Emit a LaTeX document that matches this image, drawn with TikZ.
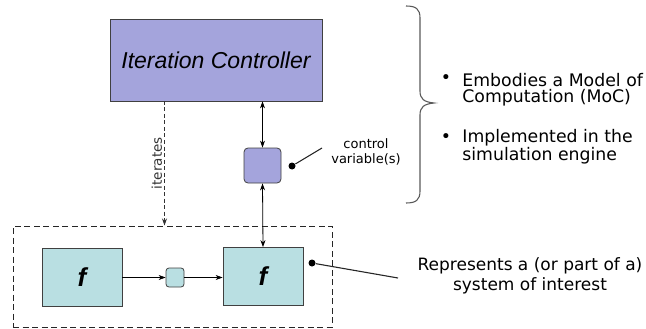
\documentclass[tikz,border=0pt]{standalone}
\usepackage{fontspec}
\setmainfont{DejaVu Sans}
\newfontfamily\arialfont{Liberation Sans}
\usetikzlibrary{arrows,arrows.meta,positioning,shapes,calc,decorations.pathreplacing}
\definecolor{ctrlfill}{HTML}{A4A4DC}
\definecolor{funfill}{HTML}{B9DFE2}
\begin{document}
\begin{tikzpicture}[x=1pt, y=-1pt, line width=0.8pt,
  ctrl box/.style={rectangle,draw=black!75,fill=ctrlfill,minimum width=212pt,minimum height=82pt,inner sep=0pt},
  var box/.style={rectangle,rounded corners=4pt,draw=black!75,fill=ctrlfill,minimum width=37pt,minimum height=35pt},
  fun box/.style={rectangle,draw=black!75,fill=funfill,minimum width=80pt,minimum height=58pt,inner sep=0pt},
  buf box/.style={rectangle,rounded corners=3pt,draw=black!75,fill=funfill,minimum width=18pt,minimum height=19pt,inner sep=0pt},
  sys box/.style={rectangle,draw=black!85,dash pattern=on 6pt off 3.5pt,line width=1pt,minimum width=319pt,minimum height=101pt},
  pin dot/.style={circle,fill=black,minimum size=7pt,inner sep=0pt},
  tip/.style={-{Stealth[length=7pt,width=5pt]}},
  both tip/.style={{Stealth[length=7pt,width=5pt]}-{Stealth[length=7pt,width=5pt]}},
  label text/.style={font=\fontsize{13}{15}\selectfont,align=center,inner sep=0pt},
  side text/.style={font=\fontsize{17.3}{16}\selectfont,align=left,inner sep=0pt}]
\useasboundingbox (0,0) rectangle (646,329);
\begin{scope}[every node/.style={font=\arialfont\itshape\fontsize{23}{26}\selectfont}]
\node[ctrl box] (ctrl) at (216,60) {Iteration Controller};
\end{scope}
\node[var box] (var) at (262.5,165.5) {};
\node[sys box] (sys) at (172.5,276.5) {};
\begin{scope}[every node/.style={font=\arialfont\bfseries\itshape\fontsize{26}{28}\selectfont}]
\node[fun box] (f1) at (82,277) {f};
\node[fun box] (f2) at (263,276.5) {f};
\end{scope}
\node[buf box] (buf) at (175,277.5) {};
\node[pin dot] (cdot) at (292,166) {};
\node[pin dot] (sdot) at (312,263) {};
\coordinate (itop) at (164.5,101);
\coordinate (cend) at (322,148);
\coordinate (send) at (398,278);
% connectors
\begin{scope}
\draw[dash pattern=on 4pt off 2.5pt,tip,black!80] (itop) -- node[rotate=90,anchor=south,inner sep=2pt,font=\fontsize{13.5}{15}\selectfont]{iterates} (itop |- sys.north);
\draw[both tip] (ctrl.south -| var) -- (var.north);
\draw[both tip] (var.south) -- (f2.north);
\draw[tip,line width=0.6pt] (f1.east |- buf) -- (buf.west);
\draw[tip,line width=0.6pt] (buf.east) -- (f2.west |- buf);
\draw[line width=1.1pt,black!85] (cdot) -- (cend);
\draw[line width=1.1pt,black!85] (sdot) -- (send);
\end{scope}
% texts
\node[label text] (ctext) at (366,152) {control\\variable(s)};
\draw[black!65,line width=1.1pt] (406,6) .. controls (416,6) and (420,9) .. (420,18) -- (420,91)
  .. controls (420,99) and (424,102) .. (434,103) .. controls (424,104) and (420,107) .. (420,115)
  -- (420,191) .. controls (420,200) and (416,203) .. (406,203);
\node[side text] (b1) at (446,79) {\textbullet};
\node[side text,anchor=west] (moc) at (462,89.5) {Embodies a Model of\\Computation (MoC)};
\node[side text] (b2) at (446,138) {\textbullet};
\node[side text,anchor=west] (eng) at (462,147) {Implemented in the\\simulation engine};
\node[side text,font=\fontsize{17}{20}\selectfont,align=center] (sys text) at (530,276) {Represents a (or part of a)\\system of interest};
\end{tikzpicture}
\end{document}
